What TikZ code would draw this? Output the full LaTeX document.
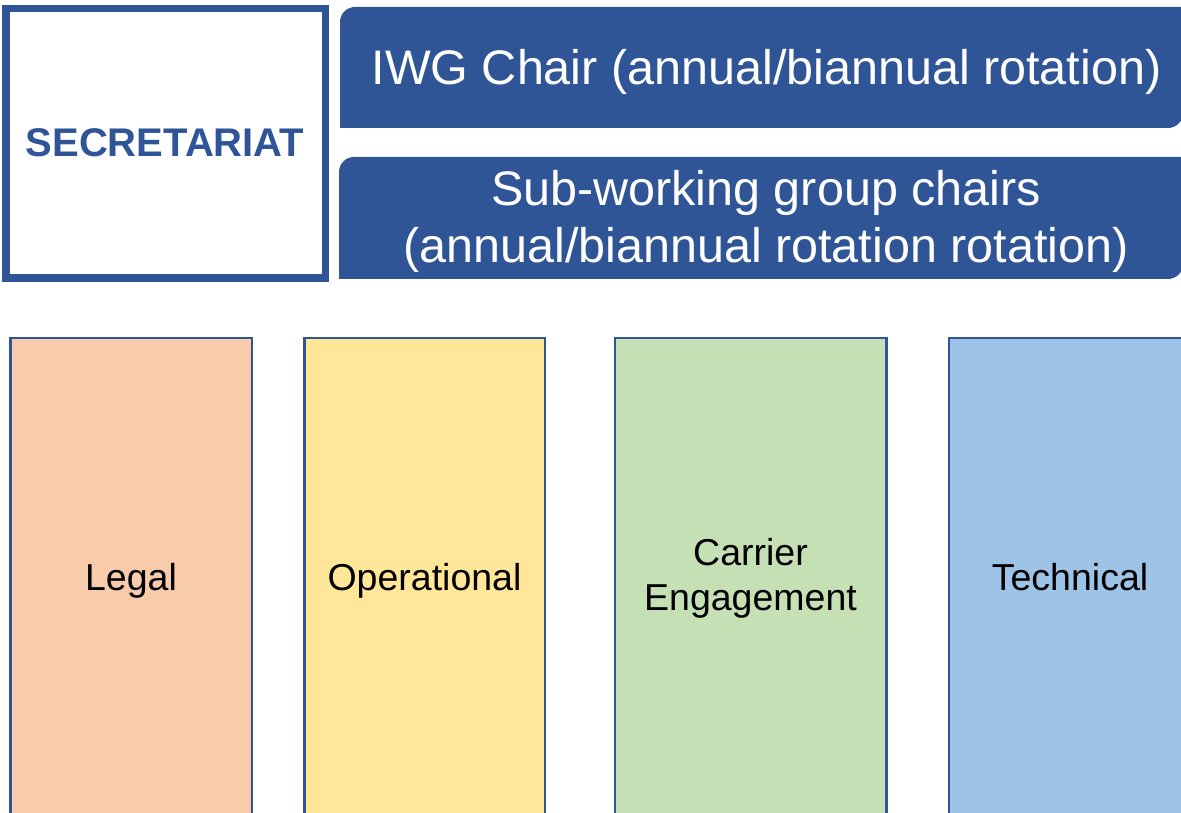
\documentclass[tikz,border=0pt]{standalone}
\usepackage{fontspec}
\setmainfont{Liberation Sans}
\usepackage{tikz}
\usetikzlibrary{calc}

\definecolor{chairblue}{HTML}{2F5597}
\definecolor{legalfill}{HTML}{F8CBAD}
\definecolor{opsfill}{HTML}{FFE699}
\definecolor{carrierfill}{HTML}{C5E0B4}
\definecolor{techfill}{HTML}{9DC3E6}

\tikzset{
	secbox/.style = {draw=chairblue, line width=7.7pt, fill=white},
	chairbox/.style = {fill=chairblue},
	groupbox/.style = {draw=chairblue, line width=2.6pt},
	sectext/.style = {text=chairblue, font=\fontsize{40}{48}\selectfont\bfseries, inner sep=0pt},
	chairtext/.style = {text=white, font=\fontsize{48.5}{57}\selectfont, align=center, inner sep=0pt},
	grouptext/.style = {text=black, font=\fontsize{37.5}{45}\selectfont, align=center, inner sep=0pt}
}

\begin{document}
\begin{tikzpicture}[x=1pt, y=1pt]
			\def\r{15pt};
			\def\top{475};
			\def\bot{-20};
			\def\base{222};

			\clip (0,0) rectangle (1181,813);

			% secretariat
			\draw[secbox] (6,535) rectangle (325.5,804.5);
			\node[sectext, anchor=base] (secretariat) at (165,656) {SECRETARIAT};

			% chairs
			\fill[chairbox] (340,685) -- (340,791) arc[start angle=180, end angle=90, radius=\r] -- (1183,806) -- (1183,700) arc[start angle=0, end angle=-90, radius=\r] -- cycle;
			\node[chairtext, anchor=base] (iwgchair) at (766.5,728) {IWG Chair (annual/biannual rotation)};

			\fill[chairbox] (339,534) -- (339,641) arc[start angle=180, end angle=90, radius=\r] -- (1183,656) -- (1183,549) arc[start angle=0, end angle=-90, radius=\r] -- cycle;
			\node[chairtext] (subchairs) at (766,592) {Sub-working group chairs\\(annual/biannual rotation rotation)};

			% sub-working groups
			\draw[groupbox, fill=legalfill] (10.5,\bot) rectangle (252,\top);
			\node[grouptext, anchor=base] (legal) at (131,\base) {Legal};

			\draw[groupbox, fill=opsfill] (304.5,\bot) rectangle (545,\top);
			\node[grouptext, anchor=base] (operational) at (424.5,\base) {Operational};

			\draw[groupbox, fill=carrierfill] (615,\bot) rectangle (886.5,\top);
			\node[grouptext] (carrier) at (750.5,234.5) {Carrier\\Engagement};

			\draw[groupbox, fill=techfill] (949,\bot) rectangle (1200,\top);
			\node[grouptext, anchor=base] (technical) at (1070,\base) {Technical};
\end{tikzpicture}
\end{document}
